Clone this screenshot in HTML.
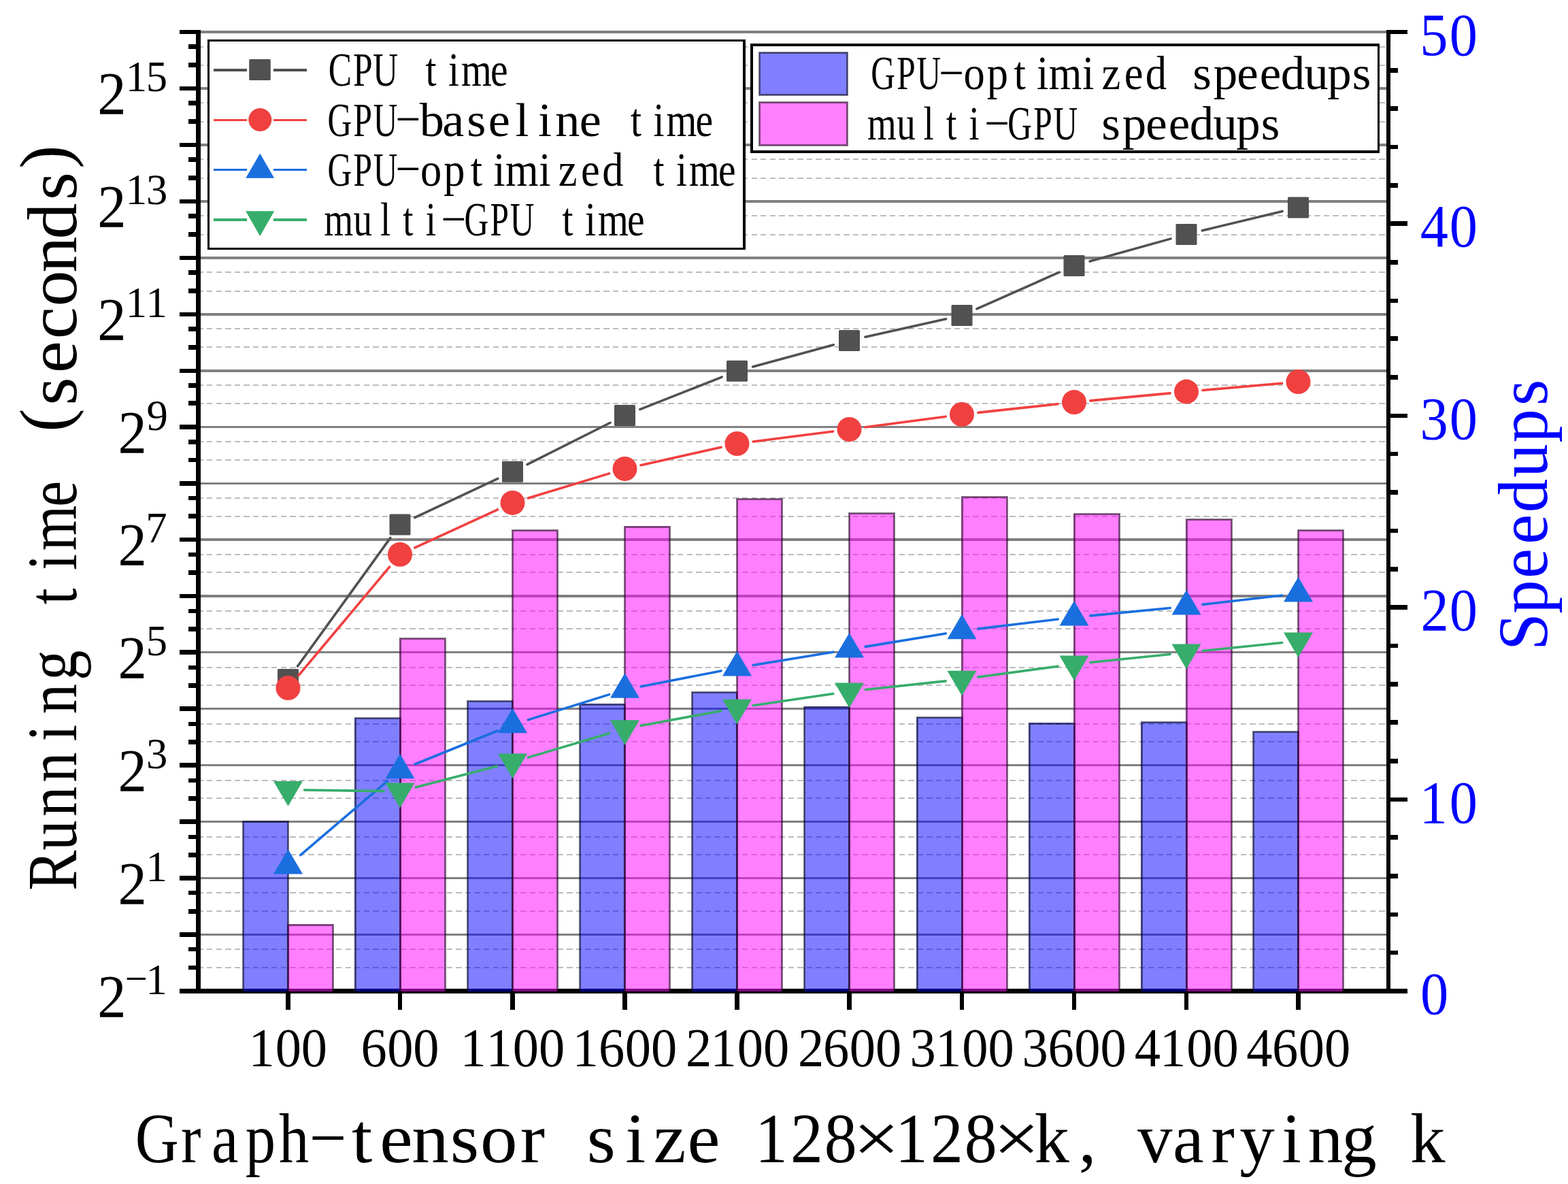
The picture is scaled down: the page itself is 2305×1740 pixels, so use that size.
<!DOCTYPE html>
<html lang="en"><head><meta charset="utf-8"><title>Running time and speedups</title>
<style>
html,body{margin:0;padding:0;background:#fff}
body{width:2305px;height:1740px;overflow:hidden}
svg{display:block}
text{font-family:"Liberation Serif","Noto Serif CJK SC",serif;white-space:pre;font-kerning:none;font-variant-ligatures:none}
.ce{shape-rendering:crispEdges}
</style></head><body>
<svg width="2305" height="1740" viewBox="0 0 2305 1740">
<rect width="2305" height="1740" fill="#fff"/>
<g class="ce">
<g fill="#808080">
<rect x="295" y="45" width="1743" height="4"/>
<rect x="295" y="128" width="1743" height="4"/>
<rect x="295" y="211" width="1743" height="4"/>
<rect x="295" y="294" width="1743" height="4"/>
<rect x="295" y="377" width="1743" height="4"/>
<rect x="295" y="460" width="1743" height="4"/>
<rect x="295" y="543" width="1743" height="4"/>
<rect x="295" y="626" width="1743" height="3"/>
<rect x="295" y="709" width="1743" height="3"/>
<rect x="295" y="791" width="1743" height="4"/>
<rect x="295" y="874" width="1743" height="4"/>
<rect x="295" y="957" width="1743" height="3"/>
<rect x="295" y="1040" width="1743" height="3"/>
<rect x="295" y="1123" width="1743" height="3"/>
<rect x="295" y="1206" width="1743" height="3"/>
<rect x="295" y="1289" width="1743" height="3"/>
<rect x="295" y="1372" width="1743" height="3"/>
</g>
<g stroke="#bdbdbd" stroke-width="2" stroke-dasharray="8.4 5.168" fill="none">
<path d="M290.432 96 H2037"/>
<path d="M290.432 69 H2037"/>
<path d="M290.432 179 H2037"/>
<path d="M290.432 151 H2037"/>
<path d="M290.432 262 H2037"/>
<path d="M290.432 234 H2037"/>
<path d="M290.432 345 H2037"/>
<path d="M290.432 317 H2037"/>
<path d="M290.432 428 H2037"/>
<path d="M290.432 400 H2037"/>
<path d="M290.432 510 H2037"/>
<path d="M290.432 483 H2037"/>
<path d="M290.432 593 H2037"/>
<path d="M290.432 566 H2037"/>
<path d="M290.432 676 H2037"/>
<path d="M290.432 649 H2037"/>
<path d="M290.432 759 H2037"/>
<path d="M290.432 732 H2037"/>
<path d="M290.432 841 H2037"/>
<path d="M290.432 815 H2037"/>
<path d="M290.432 924 H2037"/>
<path d="M290.432 898 H2037"/>
<path d="M290.432 1007 H2037"/>
<path d="M290.432 981 H2037"/>
<path d="M290.432 1090 H2037"/>
<path d="M290.432 1064 H2037"/>
<path d="M290.432 1173 H2037"/>
<path d="M290.432 1147 H2037"/>
<path d="M290.432 1256 H2037"/>
<path d="M290.432 1230 H2037"/>
<path d="M290.432 1339 H2037"/>
<path d="M290.432 1312 H2037"/>
<path d="M290.432 1422 H2037"/>
<path d="M290.432 1395 H2037"/>
</g>
</g>
<g class="ce" fill="#000">
<rect x="288" y="44" width="7" height="1416"/>
<rect x="2038" y="44" width="6" height="1416"/>
<rect x="264" y="1453" width="1805" height="7"/>
<rect x="264" y="44" width="24" height="6"/>
<rect x="264" y="127" width="24" height="6"/>
<rect x="264" y="210" width="24" height="6"/>
<rect x="264" y="293" width="24" height="6"/>
<rect x="264" y="376" width="24" height="6"/>
<rect x="264" y="459" width="24" height="6"/>
<rect x="264" y="542" width="24" height="6"/>
<rect x="264" y="624" width="24" height="7"/>
<rect x="264" y="707" width="24" height="7"/>
<rect x="264" y="790" width="24" height="6"/>
<rect x="264" y="873" width="24" height="6"/>
<rect x="264" y="955" width="24" height="7"/>
<rect x="264" y="1038" width="24" height="7"/>
<rect x="264" y="1121" width="24" height="7"/>
<rect x="264" y="1204" width="24" height="7"/>
<rect x="264" y="1287" width="24" height="7"/>
<rect x="264" y="1370" width="24" height="7"/>
<rect x="277" y="92" width="11" height="7"/>
<rect x="277" y="65" width="11" height="7"/>
<rect x="277" y="175" width="11" height="7"/>
<rect x="277" y="148" width="11" height="7"/>
<rect x="277" y="258" width="11" height="7"/>
<rect x="277" y="231" width="11" height="7"/>
<rect x="277" y="341" width="11" height="7"/>
<rect x="277" y="314" width="11" height="7"/>
<rect x="277" y="424" width="11" height="7"/>
<rect x="277" y="397" width="11" height="7"/>
<rect x="277" y="507" width="11" height="7"/>
<rect x="277" y="480" width="11" height="7"/>
<rect x="277" y="589" width="11" height="7"/>
<rect x="277" y="563" width="11" height="7"/>
<rect x="277" y="673" width="11" height="6"/>
<rect x="277" y="646" width="11" height="7"/>
<rect x="277" y="755" width="11" height="7"/>
<rect x="277" y="729" width="11" height="6"/>
<rect x="277" y="838" width="11" height="7"/>
<rect x="277" y="812" width="11" height="6"/>
<rect x="277" y="921" width="11" height="7"/>
<rect x="277" y="895" width="11" height="6"/>
<rect x="277" y="1004" width="11" height="7"/>
<rect x="277" y="978" width="11" height="6"/>
<rect x="277" y="1087" width="11" height="7"/>
<rect x="277" y="1061" width="11" height="6"/>
<rect x="277" y="1170" width="11" height="7"/>
<rect x="277" y="1144" width="11" height="6"/>
<rect x="277" y="1253" width="11" height="7"/>
<rect x="277" y="1227" width="11" height="6"/>
<rect x="277" y="1336" width="11" height="7"/>
<rect x="277" y="1309" width="11" height="6"/>
<rect x="277" y="1419" width="11" height="6"/>
<rect x="277" y="1392" width="11" height="6"/>
<rect x="2044" y="44" width="25" height="6"/>
<rect x="2044" y="100" width="11" height="7"/>
<rect x="2044" y="156" width="11" height="7"/>
<rect x="2044" y="213" width="11" height="6"/>
<rect x="2044" y="269" width="11" height="7"/>
<rect x="2044" y="325" width="25" height="7"/>
<rect x="2044" y="382" width="11" height="7"/>
<rect x="2044" y="439" width="11" height="6"/>
<rect x="2044" y="494" width="11" height="7"/>
<rect x="2044" y="551" width="11" height="7"/>
<rect x="2044" y="608" width="25" height="6"/>
<rect x="2044" y="664" width="11" height="6"/>
<rect x="2044" y="720" width="11" height="7"/>
<rect x="2044" y="777" width="11" height="6"/>
<rect x="2044" y="833" width="11" height="7"/>
<rect x="2044" y="889" width="25" height="7"/>
<rect x="2044" y="946" width="11" height="6"/>
<rect x="2044" y="1002" width="11" height="7"/>
<rect x="2044" y="1058" width="11" height="7"/>
<rect x="2044" y="1115" width="11" height="7"/>
<rect x="2044" y="1172" width="25" height="6"/>
<rect x="2044" y="1227" width="11" height="7"/>
<rect x="2044" y="1284" width="11" height="7"/>
<rect x="2044" y="1341" width="11" height="6"/>
<rect x="2044" y="1397" width="11" height="6"/>
<rect x="420" y="1460" width="7" height="24"/>
<rect x="585" y="1460" width="6" height="24"/>
<rect x="750" y="1460" width="7" height="24"/>
<rect x="915" y="1460" width="7" height="24"/>
<rect x="1080" y="1460" width="7" height="24"/>
<rect x="1245" y="1460" width="7" height="24"/>
<rect x="1411" y="1460" width="6" height="24"/>
<rect x="1576" y="1460" width="6" height="24"/>
<rect x="1741" y="1460" width="6" height="24"/>
<rect x="1905" y="1460" width="7" height="24"/>
</g>
<g class="ce">
<rect x="356.75" y="1206.85" width="67.5" height="250.15" fill="#00f" fill-opacity="0.5"/>
<path d="M357.5 1457V1207.6H423.5V1457" fill="none" stroke="#000" stroke-opacity="0.5" stroke-width="3"/>
<rect x="521.25" y="1054.65" width="67.5" height="402.35" fill="#00f" fill-opacity="0.5"/>
<path d="M522 1457V1055.4H588V1457" fill="none" stroke="#000" stroke-opacity="0.5" stroke-width="3"/>
<rect x="686.75" y="1029.75" width="67.5" height="427.25" fill="#00f" fill-opacity="0.5"/>
<path d="M687.5 1457V1030.5H753.5V1457" fill="none" stroke="#000" stroke-opacity="0.5" stroke-width="3"/>
<rect x="851.75" y="1034.45" width="67.5" height="422.55" fill="#00f" fill-opacity="0.5"/>
<path d="M852.5 1457V1035.2H918.5V1457" fill="none" stroke="#000" stroke-opacity="0.5" stroke-width="3"/>
<rect x="1016.75" y="1016.55" width="67.5" height="440.45" fill="#00f" fill-opacity="0.5"/>
<path d="M1017.5 1457V1017.3H1083.5V1457" fill="none" stroke="#000" stroke-opacity="0.5" stroke-width="3"/>
<rect x="1181.75" y="1038.45" width="67.5" height="418.55" fill="#00f" fill-opacity="0.5"/>
<path d="M1182.5 1457V1039.2H1248.5V1457" fill="none" stroke="#000" stroke-opacity="0.5" stroke-width="3"/>
<rect x="1347.25" y="1053.65" width="67.5" height="403.35" fill="#00f" fill-opacity="0.5"/>
<path d="M1348 1457V1054.4H1414V1457" fill="none" stroke="#000" stroke-opacity="0.5" stroke-width="3"/>
<rect x="1512.25" y="1062.45" width="67.5" height="394.55" fill="#00f" fill-opacity="0.5"/>
<path d="M1513 1457V1063.2H1579V1457" fill="none" stroke="#000" stroke-opacity="0.5" stroke-width="3"/>
<rect x="1677.25" y="1060.75" width="67.5" height="396.25" fill="#00f" fill-opacity="0.5"/>
<path d="M1678 1457V1061.5H1744V1457" fill="none" stroke="#000" stroke-opacity="0.5" stroke-width="3"/>
<rect x="1841.75" y="1074.85" width="67.5" height="382.15" fill="#00f" fill-opacity="0.5"/>
<path d="M1842.5 1457V1075.6H1908.5V1457" fill="none" stroke="#000" stroke-opacity="0.5" stroke-width="3"/>
<rect x="422.75" y="1358.25" width="67.5" height="98.75" fill="#f0f" fill-opacity="0.5"/>
<path d="M423.5 1457V1359H489.5V1457" fill="none" stroke="#000" stroke-opacity="0.5" stroke-width="3"/>
<rect x="587.25" y="938.05" width="67.5" height="518.95" fill="#f0f" fill-opacity="0.5"/>
<path d="M588 1457V938.8H654V1457" fill="none" stroke="#000" stroke-opacity="0.5" stroke-width="3"/>
<rect x="752.75" y="779.15" width="67.5" height="677.85" fill="#f0f" fill-opacity="0.5"/>
<path d="M753.5 1457V779.9H819.5V1457" fill="none" stroke="#000" stroke-opacity="0.5" stroke-width="3"/>
<rect x="917.75" y="773.25" width="67.5" height="683.75" fill="#f0f" fill-opacity="0.5"/>
<path d="M918.5 1457V774H984.5V1457" fill="none" stroke="#000" stroke-opacity="0.5" stroke-width="3"/>
<rect x="1082.75" y="732.85" width="67.5" height="724.15" fill="#f0f" fill-opacity="0.5"/>
<path d="M1083.5 1457V733.6H1149.5V1457" fill="none" stroke="#000" stroke-opacity="0.5" stroke-width="3"/>
<rect x="1247.75" y="754.05" width="67.5" height="702.95" fill="#f0f" fill-opacity="0.5"/>
<path d="M1248.5 1457V754.8H1314.5V1457" fill="none" stroke="#000" stroke-opacity="0.5" stroke-width="3"/>
<rect x="1413.25" y="729.85" width="67.5" height="727.15" fill="#f0f" fill-opacity="0.5"/>
<path d="M1414 1457V730.6H1480V1457" fill="none" stroke="#000" stroke-opacity="0.5" stroke-width="3"/>
<rect x="1578.25" y="754.95" width="67.5" height="702.05" fill="#f0f" fill-opacity="0.5"/>
<path d="M1579 1457V755.7H1645V1457" fill="none" stroke="#000" stroke-opacity="0.5" stroke-width="3"/>
<rect x="1743.25" y="762.75" width="67.5" height="694.25" fill="#f0f" fill-opacity="0.5"/>
<path d="M1744 1457V763.5H1810V1457" fill="none" stroke="#000" stroke-opacity="0.5" stroke-width="3"/>
<rect x="1907.75" y="779.15" width="67.5" height="677.85" fill="#f0f" fill-opacity="0.5"/>
<path d="M1908.5 1457V779.9H1974.5V1457" fill="none" stroke="#000" stroke-opacity="0.5" stroke-width="3"/>
</g>
<g fill="#515151">
<path d="M437.56 979.05L573.94 790.35M609.73 760.71L731.77 703.49M774.95 682.54L897.05 621.26M940.82 601.68L1061.18 554.12M1106.66 539.01L1225.34 506.79M1271.92 495.26L1390.58 468.74M1435.95 453.79L1557.05 400.21M1602.11 384.04L1720.89 350.86M1767.34 338.81L1885.16 310.59" fill="none" stroke="#515151" stroke-width="3.6" stroke-linecap="round"/>
<rect x="408" y="983" width="31" height="31" rx="1.5"/>
<rect x="572.5" y="755.4" width="31" height="31" rx="1.5"/>
<rect x="738" y="677.8" width="31" height="31" rx="1.5"/>
<rect x="903" y="595" width="31" height="31" rx="1.5"/>
<rect x="1068" y="529.8" width="31" height="31" rx="1.5"/>
<rect x="1233" y="485" width="31" height="31" rx="1.5"/>
<rect x="1398.5" y="448" width="31" height="31" rx="1.5"/>
<rect x="1563.5" y="375" width="31" height="31" rx="1.5"/>
<rect x="1728.5" y="328.9" width="31" height="31" rx="1.5"/>
<rect x="1893" y="289.5" width="31" height="31" rx="1.5"/>
</g>
<g fill="#f14040">
<path d="M438.92 992.61L572.58 833.19M609.82 804.8L731.68 748.9M776.47 731.94L895.53 695.86M941.92 683.66L1060.08 657.24M1107.31 648.97L1224.69 634.03M1272.29 627.84L1390.21 612.16M1437.86 606.41L1555.14 593.69M1602.89 588.86L1720.11 577.84M1767.91 573.49L1884.59 563.21" fill="none" stroke="#f14040" stroke-width="3.6" stroke-linecap="round"/>
<circle cx="423.5" cy="1011" r="18"/>
<circle cx="588" cy="814.8" r="18"/>
<circle cx="753.5" cy="738.9" r="18"/>
<circle cx="918.5" cy="688.9" r="18"/>
<circle cx="1083.5" cy="652" r="18"/>
<circle cx="1248.5" cy="631" r="18"/>
<circle cx="1414" cy="609" r="18"/>
<circle cx="1579" cy="591.1" r="18"/>
<circle cx="1744" cy="575.6" r="18"/>
<circle cx="1908.5" cy="561.1" r="18"/>
</g>
<g fill="#1a6fdf">
<path d="M441.77 1256.54L569.73 1147.56M610.25 1122.99L731.25 1074.01M776.41 1057.85L895.59 1020.65M942.06 1008.9L1059.94 985.9M1107.18 977.42L1224.82 958.18M1272.18 950.39L1390.32 930.91M1437.83 924.14L1555.17 910.06M1602.89 904.87L1720.11 893.43M1767.84 888.37L1884.66 875.03" fill="none" stroke="#1a6fdf" stroke-width="3.6" stroke-linecap="round"/>
<path d="M423.5 1247.9L445 1284.4H402Z"/>
<path d="M588 1107.8L609.5 1144.3H566.5Z"/>
<path d="M753.5 1040.8L775 1077.3H732Z"/>
<path d="M918.5 989.3L940 1025.8H897Z"/>
<path d="M1083.5 957.1L1105 993.6H1062Z"/>
<path d="M1248.5 930.1L1270 966.6H1227Z"/>
<path d="M1414 902.8L1435.5 939.3H1392.5Z"/>
<path d="M1579 883L1600.5 919.5H1557.5Z"/>
<path d="M1744 866.9L1765.5 903.4H1722.5Z"/>
<path d="M1908.5 848.1L1930 884.6H1887Z"/>
</g>
<g fill="#37ad6b">
<path d="M447.5 1160.95L564 1162.65M611.23 1156.96L730.27 1126.04M776.5 1113.14L895.5 1077.66M942.1 1066.44L1059.9 1044.66M1107.24 1036.8L1224.76 1019.5M1272.36 1013.45L1390.14 1000.85M1437.78 995.09L1555.22 979.21M1602.87 973.54L1720.13 961.46M1767.87 956.53L1884.63 944.47" fill="none" stroke="#37ad6b" stroke-width="3.6" stroke-linecap="round"/>
<path d="M423.5 1184.8L445 1148H402Z"/>
<path d="M588 1187.2L609.5 1150.4H566.5Z"/>
<path d="M753.5 1144.2L775 1107.4H732Z"/>
<path d="M918.5 1095L940 1058.2H897Z"/>
<path d="M1083.5 1064.5L1105 1027.7H1062Z"/>
<path d="M1248.5 1040.2L1270 1003.4H1227Z"/>
<path d="M1414 1022.5L1435.5 985.7H1392.5Z"/>
<path d="M1579 1000.2L1600.5 963.4H1557.5Z"/>
<path d="M1744 983.2L1765.5 946.4H1722.5Z"/>
<path d="M1908.5 966.2L1930 929.4H1887Z"/>
</g>
<g class="ce">
<rect x="305" y="58" width="791" height="309" fill="#000"/><rect x="308" y="61" width="784" height="303" fill="#fff"/>
<rect x="1103" y="64" width="925" height="161" fill="#000"/><rect x="1107" y="68" width="918" height="153" fill="#fff"/>
</g>
<g fill="#515151">
<path d="M314 103H363M402 103H451" fill="none" stroke="#515151" stroke-width="4" class="ce"/>
<rect x="366.2" y="87" width="31.6" height="31" rx="1.5"/>
</g>
<g fill="#f14040">
<path d="M314 176.5H363M402 176.5H451" fill="none" stroke="#f14040" stroke-width="3" class="ce"/>
<circle cx="382.3" cy="176" r="17"/>
</g>
<g fill="#1a6fdf">
<path d="M314 249.5H363M402 249.5H451" fill="none" stroke="#1a6fdf" stroke-width="3" class="ce"/>
<path d="M382.2 225.6L403.2 261.8H361.2Z"/>
</g>
<g fill="#37ad6b">
<path d="M314 323H363M402 323H451" fill="none" stroke="#37ad6b" stroke-width="4" class="ce"/>
<path d="M382.2 347L403.2 310.2H361.2Z"/>
</g>
<g class="ce">
<rect x="1115.75" y="76.75" width="130.5" height="63.5" fill="#00f" fill-opacity="0.5"/>
<rect x="1116.5" y="77.5" width="129" height="62" fill="none" stroke="#000" stroke-opacity="0.5" stroke-width="3"/>
<rect x="1115.75" y="149.75" width="130.5" height="64.5" fill="#f0f" fill-opacity="0.5"/>
<rect x="1116.5" y="150.5" width="129" height="63" fill="none" stroke="#000" stroke-opacity="0.5" stroke-width="3"/>
</g>
<text transform="translate(482.8 126)" font-size="69.5" fill="#000"><tspan x="-0.04 36.24 65.18" y="0" textLength="100.05" lengthAdjust="spacingAndGlyphs">CPU</tspan><tspan x="100.5 142.62 176.18 195.16 238.32" y="0" textLength="116.95" lengthAdjust="spacingAndGlyphs"> time</tspan></text>
<text transform="translate(482.8 199.5)" font-size="69.5" fill="#000"><tspan x="-1.31 36.81 65.93" y="0" textLength="98.71" lengthAdjust="spacingAndGlyphs">GPU</tspan><tspan x="97.59" y="-13.21" font-size="45.87" textLength="39.2" lengthAdjust="spacingAndGlyphs">-</tspan><tspan x="134.06 167.43 203.51 235.05 274.71 308.14 333.4 369.05" y="0" textLength="236.82" lengthAdjust="spacingAndGlyphs">baseline</tspan><tspan x="402 444.12 477.68 496.66 539.82" y="0" textLength="116.95" lengthAdjust="spacingAndGlyphs"> time</tspan></text>
<text transform="translate(482.8 272.5)" font-size="69.5" fill="#000"><tspan x="-1.31 36.81 65.93" y="0" textLength="98.71" lengthAdjust="spacingAndGlyphs">GPU</tspan><tspan x="97.59" y="-13.21" font-size="45.87" textLength="39.2" lengthAdjust="spacingAndGlyphs">-</tspan><tspan x="135.11 169.33 208.94 242.5 260.26 309.5 337.9 371.23 402.37" y="0" textLength="250.14" lengthAdjust="spacingAndGlyphs">optimized</tspan><tspan x="435.5 477.62 511.18 530.16 573.32" y="0" textLength="116.95" lengthAdjust="spacingAndGlyphs"> time</tspan></text>
<text transform="translate(482.8 346)" font-size="69.5" fill="#000"><tspan x="-6.43 36.63 76.12 109.51 143.07" y="0" textLength="115.92" lengthAdjust="spacingAndGlyphs">multi</tspan><tspan x="164.59" y="-13.21" font-size="45.87" textLength="39.2" lengthAdjust="spacingAndGlyphs">-</tspan><tspan x="199.69 237.81 266.93" y="0" textLength="98.71" lengthAdjust="spacingAndGlyphs">GPU</tspan><tspan x="301.5 343.62 377.18 396.16 439.32" y="0" textLength="116.95" lengthAdjust="spacingAndGlyphs"> time</tspan></text>
<text transform="translate(1281.5 131.4)" font-size="69.5" fill="#000"><tspan x="-1.31 36.81 65.93" y="0" textLength="98.71" lengthAdjust="spacingAndGlyphs">GPU</tspan><tspan x="97.59" y="-13.21" font-size="45.87" textLength="39.2" lengthAdjust="spacingAndGlyphs">-</tspan><tspan x="135.11 169.33 208.94 242.5 260.26 309.5 337.9 371.23 402.37" y="0" textLength="250.14" lengthAdjust="spacingAndGlyphs">optimized</tspan><tspan x="435.5 471.78 502.34 536.86 570.36 601.18 635.67 669.84 706.28" y="0" textLength="277.61" lengthAdjust="spacingAndGlyphs"> speedups</tspan></text>
<text transform="translate(1281.5 205.2)" font-size="69.5" fill="#000"><tspan x="-6.43 36.63 76.12 109.51 143.07" y="0" textLength="115.92" lengthAdjust="spacingAndGlyphs">multi</tspan><tspan x="164.59" y="-13.21" font-size="45.87" textLength="39.2" lengthAdjust="spacingAndGlyphs">-</tspan><tspan x="199.69 237.81 266.93" y="0" textLength="98.71" lengthAdjust="spacingAndGlyphs">GPU</tspan><tspan x="301.5 337.78 368.34 402.86 436.36 467.18 501.67 535.84 572.28" y="0" textLength="277.61" lengthAdjust="spacingAndGlyphs"> speedups</tspan></text>
<text font-size="89"><tspan x="143.34" y="167" textLength="42.27" lengthAdjust="spacingAndGlyphs">2</tspan><tspan x="184.65 214.73" y="134" font-size="62.7">15</tspan></text>
<text font-size="89"><tspan x="143.34" y="333" textLength="42.27" lengthAdjust="spacingAndGlyphs">2</tspan><tspan x="184.65 215.05" y="300" font-size="62.7">13</tspan></text>
<text font-size="89"><tspan x="143.34" y="499" textLength="42.27" lengthAdjust="spacingAndGlyphs">2</tspan><tspan x="184.65 214.45" y="466" font-size="62.7">11</tspan></text>
<text font-size="89"><tspan x="173.54" y="664.5" textLength="42.27" lengthAdjust="spacingAndGlyphs">2</tspan><tspan x="215.6" y="631.5" font-size="62.7">9</tspan></text>
<text font-size="89"><tspan x="173.54" y="830" textLength="42.27" lengthAdjust="spacingAndGlyphs">2</tspan><tspan x="214.16" y="797" font-size="62.7">7</tspan></text>
<text font-size="89"><tspan x="173.54" y="995.5" textLength="42.27" lengthAdjust="spacingAndGlyphs">2</tspan><tspan x="214.73" y="962.5" font-size="62.7">5</tspan></text>
<text font-size="89"><tspan x="173.54" y="1161.5" textLength="42.27" lengthAdjust="spacingAndGlyphs">2</tspan><tspan x="215.05" y="1128.5" font-size="62.7">3</tspan></text>
<text font-size="89"><tspan x="173.54" y="1327.5" textLength="42.27" lengthAdjust="spacingAndGlyphs">2</tspan><tspan x="214.45" y="1294.5" font-size="62.7">1</tspan></text>
<text font-size="89"><tspan x="143.34" y="1493.5" textLength="42.27" lengthAdjust="spacingAndGlyphs">2</tspan><tspan x="183.85" y="1458.5" font-size="62.7" textLength="33.24" lengthAdjust="spacingAndGlyphs">−</tspan><tspan x="214.45" y="1460.5" font-size="62.7">1</tspan></text>
<text transform="translate(366.57 1567)" font-size="79.7" fill="#000"><tspan x="-1.12 38.1 76.25" y="0" textLength="114.77" lengthAdjust="spacingAndGlyphs">100</tspan></text>
<text transform="translate(531.07 1567)" font-size="79.7" fill="#000"><tspan x="-0.56 38.1 76.25" y="0" textLength="114.77" lengthAdjust="spacingAndGlyphs">600</tspan></text>
<text transform="translate(677.5 1567)" font-size="79.7" fill="#000"><tspan x="-1.12 37.03 76.25 114.4" y="0" textLength="153.02" lengthAdjust="spacingAndGlyphs">1100</tspan></text>
<text transform="translate(842.5 1567)" font-size="79.7" fill="#000"><tspan x="-1.12 37.59 76.25 114.4" y="0" textLength="153.02" lengthAdjust="spacingAndGlyphs">1600</tspan></text>
<text transform="translate(1007.5 1567)" font-size="79.7" fill="#000"><tspan x="0.38 37.03 76.25 114.4" y="0" textLength="153.02" lengthAdjust="spacingAndGlyphs">2100</tspan></text>
<text transform="translate(1172.5 1567)" font-size="79.7" fill="#000"><tspan x="0.38 37.59 76.25 114.4" y="0" textLength="153.02" lengthAdjust="spacingAndGlyphs">2600</tspan></text>
<text transform="translate(1338 1567)" font-size="79.7" fill="#000"><tspan x="-0.39 37.03 76.25 114.4" y="0" textLength="153.02" lengthAdjust="spacingAndGlyphs">3100</tspan></text>
<text transform="translate(1503 1567)" font-size="79.7" fill="#000"><tspan x="-0.39 37.59 76.25 114.4" y="0" textLength="153.02" lengthAdjust="spacingAndGlyphs">3600</tspan></text>
<text transform="translate(1668 1567)" font-size="79.7" fill="#000"><tspan x="-0.2 37.03 76.25 114.4" y="0" textLength="153.02" lengthAdjust="spacingAndGlyphs">4100</tspan></text>
<text transform="translate(1832.5 1567)" font-size="79.7" fill="#000"><tspan x="-0.2 37.59 76.25 114.4" y="0" textLength="153.02" lengthAdjust="spacingAndGlyphs">4600</tspan></text>
<text transform="translate(2087.25 1490.3)" font-size="87.8" fill="#00f"><tspan x="0.72" y="0" textLength="41.27" lengthAdjust="spacingAndGlyphs">0</tspan></text>
<text transform="translate(2087.25 1208.8)" font-size="87.8" fill="#00f"><tspan x="-0.43 43.42" y="0" textLength="82.53" lengthAdjust="spacingAndGlyphs">10</tspan></text>
<text transform="translate(2087.25 926.3)" font-size="87.8" fill="#00f"><tspan x="1.18 43.42" y="0" textLength="82.53" lengthAdjust="spacingAndGlyphs">20</tspan></text>
<text transform="translate(2087.25 644.8)" font-size="87.8" fill="#00f"><tspan x="0.35 43.42" y="0" textLength="82.53" lengthAdjust="spacingAndGlyphs">30</tspan></text>
<text transform="translate(2087.25 362.3)" font-size="87.8" fill="#00f"><tspan x="0.56 43.42" y="0" textLength="82.53" lengthAdjust="spacingAndGlyphs">40</tspan></text>
<text transform="translate(2087.25 80.8)" font-size="87.8" fill="#00f"><tspan x="-0.07 43.42" y="0" textLength="82.53" lengthAdjust="spacingAndGlyphs">50</tspan></text>
<text transform="translate(206 1708)" font-size="103" fill="#000"><tspan x="-7.3 60.1 104.96 154.68 204.04" y="0" textLength="221.36" lengthAdjust="spacingAndGlyphs">Graph</tspan><tspan x="247.13" y="-19.57" font-size="67.98" textLength="58.09" lengthAdjust="spacingAndGlyphs">-</tspan><tspan x="311.11 352.25 399.23 455.68 500.12 558.86" y="0" textLength="266.82" lengthAdjust="spacingAndGlyphs">tensor</tspan><tspan x="602.76 656.8 713.2 754.62 804.55" y="0" textLength="195.18" lengthAdjust="spacingAndGlyphs"> size</tspan><tspan x="853.91 903.98 956.08 1005.77" y="0" textLength="167.63" lengthAdjust="spacingAndGlyphs"> 128</tspan><tspan x="1048.13" y="0" textLength="68.54" lengthAdjust="spacingAndGlyphs">×</tspan><tspan x="1109.92 1162.02 1211.71" y="0" textLength="143.69" lengthAdjust="spacingAndGlyphs">128</tspan><tspan x="1254.07" y="0" textLength="68.54" lengthAdjust="spacingAndGlyphs">×</tspan><tspan x="1314.41" y="0">k</tspan><tspan x="1379.78" y="0">,</tspan><tspan x="1416.49 1466.08 1518.09 1574.56 1616.34 1678.34 1716.83 1766.23" y="0"> varying</tspan><tspan x="1818.33 1866.94" y="0"> k</tspan></text>
<text transform="translate(112 1303.1) rotate(-90)" font-size="103" fill="#000"><tspan x="-5.64 53.37 103.08 153.31 213.64 253.77 303.29" y="0" textLength="305.14" lengthAdjust="spacingAndGlyphs">Running</tspan><tspan x="351.61 414.91 465.22 493.94 558.48" y="0" textLength="173.32" lengthAdjust="spacingAndGlyphs"> time</tspan><tspan x="602.76 668.39" y="-10.81"> (</tspan><tspan x="707.44 754.78 804.86 852.5 902.32 951.69 1008.82" y="0" textLength="335.88" lengthAdjust="spacingAndGlyphs">seconds</tspan><tspan x="1055.36" y="-10.81">)</tspan></text>
<text transform="translate(2274 953.5) rotate(-90)" font-size="103" fill="#00f"><tspan x="-2.62 51.76 103.41 153.64 200.13 251.74 302.91 357.25" y="0" textLength="379.01" lengthAdjust="spacingAndGlyphs">Speedups</tspan></text>
</svg></body></html>
